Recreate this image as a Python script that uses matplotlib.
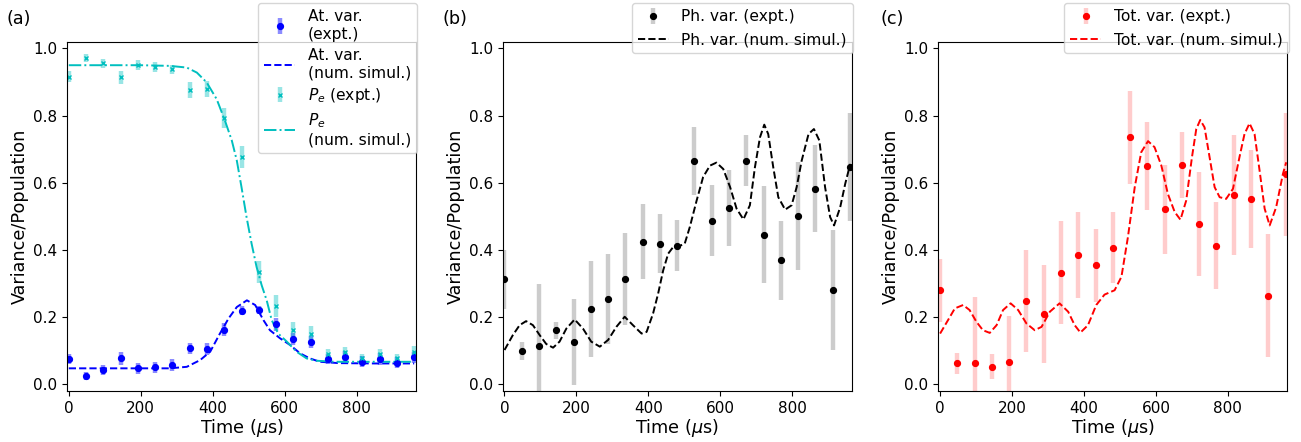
import numpy as np
import matplotlib
matplotlib.use("Agg")
import matplotlib.pyplot as plt

# ---------------- data ----------------
t_expt = [0, 48, 96, 144, 192, 240, 288, 336, 384, 432, 480, 528, 576, 624, 672, 720, 768, 816, 864, 912, 960]

at_var = [0.075, 0.026, 0.043, 0.077, 0.048, 0.050, 0.057, 0.107, 0.105, 0.163, 0.219,
          0.221, 0.178, 0.134, 0.125, 0.075, 0.082, 0.067, 0.075, 0.064, 0.080]
at_var_err = [0.015, 0.012, 0.014, 0.020, 0.016, 0.016, 0.017, 0.017, 0.017, 0.018, 0.013,
              0.012, 0.018, 0.018, 0.018, 0.016, 0.016, 0.017, 0.017, 0.017, 0.017]

pe = [0.916, 0.971, 0.956, 0.914, 0.950, 0.946, 0.938, 0.876, 0.879, 0.793, 0.676,
      0.335, 0.233, 0.161, 0.149, 0.089, 0.095, 0.079, 0.089, 0.077, 0.097]
pe_err = [0.017, 0.012, 0.013, 0.020, 0.015, 0.015, 0.014, 0.023, 0.024, 0.031, 0.032,
          0.032, 0.032, 0.025, 0.025, 0.017, 0.017, 0.012, 0.017, 0.013, 0.017]

t_at_sim = [0, 100, 200, 281, 328, 365, 393, 420, 444, 467, 495, 518, 541, 559, 587, 615,
            643, 670, 698, 750, 850, 960]
at_sim = [0.0475, 0.0475, 0.0475, 0.0475, 0.052, 0.072, 0.097, 0.151, 0.196, 0.230, 0.250,
          0.236, 0.191, 0.161, 0.137, 0.117, 0.092, 0.077, 0.067, 0.063, 0.062, 0.062]

t_pe_sim = [0, 100, 200, 281, 328, 356, 383, 411, 434, 453, 467, 480, 494, 508, 522, 536,
            550, 564, 582, 606, 633, 661, 689, 740, 850, 960]
pe_sim = [0.950, 0.950, 0.950, 0.948, 0.943, 0.928, 0.899, 0.849, 0.785, 0.726, 0.666, 0.587,
          0.498, 0.419, 0.349, 0.295, 0.250, 0.191, 0.151, 0.127, 0.097, 0.077, 0.070, 0.067,
          0.067, 0.067]

ph_var = [0.312, 0.100, 0.115, 0.161, 0.125, 0.224, 0.255, 0.313, 0.425, 0.419, 0.413,
          0.666, 0.487, 0.524, 0.666, 0.445, 0.369, 0.501, 0.582, 0.280, 0.647]
ph_var_err = [0.087, 0.027, 0.185, 0.025, 0.128, 0.142, 0.134, 0.136, 0.111, 0.089, 0.075,
              0.101, 0.105, 0.113, 0.077, 0.144, 0.117, 0.162, 0.129, 0.178, 0.161]

t_ph_sim = [0, 23, 42, 60, 79, 98, 116, 135, 153, 172, 195, 218, 241, 265, 288, 311, 334, 357,
            381, 395, 413, 427, 441, 455, 469, 487, 501, 515, 534, 552, 571, 589, 608, 627,
            645, 664, 682, 696, 710, 722, 733, 747, 761, 780, 798, 812, 826, 845, 860, 875,
            891, 905, 916, 933, 947, 961]
ph_sim = [0.102, 0.146, 0.176, 0.188, 0.176, 0.146, 0.120, 0.109, 0.127, 0.166, 0.193, 0.166,
          0.127, 0.112, 0.132, 0.171, 0.201, 0.176, 0.151, 0.156, 0.211, 0.270, 0.339, 0.389,
          0.409, 0.412, 0.419, 0.468, 0.547, 0.617, 0.651, 0.660, 0.641, 0.587, 0.523, 0.491,
          0.533, 0.646, 0.735, 0.773, 0.745, 0.646, 0.557, 0.520, 0.533, 0.587, 0.666, 0.745,
          0.760, 0.726, 0.587, 0.498, 0.473, 0.527, 0.597, 0.656]

tot_var = [0.280, 0.062, 0.064, 0.052, 0.065, 0.247, 0.209, 0.332, 0.384, 0.354, 0.407,
           0.735, 0.651, 0.521, 0.654, 0.477, 0.413, 0.563, 0.553, 0.263, 0.625]
tot_var_err = [0.094, 0.032, 0.196, 0.037, 0.138, 0.152, 0.145, 0.153, 0.128, 0.109, 0.105,
               0.139, 0.131, 0.133, 0.098, 0.154, 0.129, 0.178, 0.146, 0.183, 0.183]

t_tot_sim = [0, 22, 41, 64, 82, 101, 119, 138, 157, 175, 196, 217, 240, 263, 282, 305, 332,
             356, 374, 390, 411, 434, 457, 485, 504, 522, 541, 559, 578, 596, 615, 633, 652,
             668, 684, 700, 712, 723, 735, 749, 763, 777, 795, 814, 832, 846, 860, 874, 888,
             902, 916, 934, 953, 962]
tot_sim = [0.151, 0.191, 0.226, 0.236, 0.221, 0.186, 0.161, 0.153, 0.176, 0.221, 0.241, 0.221,
           0.181, 0.161, 0.171, 0.216, 0.241, 0.216, 0.176, 0.154, 0.176, 0.236, 0.267, 0.280,
           0.320, 0.438, 0.587, 0.691, 0.724, 0.706, 0.651, 0.567, 0.513, 0.490, 0.547, 0.676,
           0.760, 0.787, 0.765, 0.676, 0.587, 0.557, 0.552, 0.582, 0.676, 0.745, 0.777, 0.745,
           0.636, 0.523, 0.473, 0.527, 0.627, 0.661]

panel_labels = ["(a)", "(b)", "(c)"]
xticks = [0, 200, 400, 600, 800]
yticks = [0.0, 0.2, 0.4, 0.6, 0.8, 1.0]

# ---------------- figure ----------------
W, H = 1301, 442
fig = plt.figure(figsize=(W / 100, H / 100), dpi=100)

TICK_FS = 11.0
LABEL_FS = 12.7
LEG_FS = 11.2

lefts = [67, 502.7, 938.3]
ax_w = 349
ax_b = 391
ax_t = 41.7
axes = []
for l in lefts:
    ax = fig.add_axes([l / W, 1 - ax_b / H, ax_w / W, (ax_b - ax_t) / H])
    axes.append(ax)

def style(ax):
    ax.set_xlim(-5, 965)
    ax.set_ylim(-0.02, 1.02)
    ax.set_xticks(xticks)
    ax.set_yticks(yticks)
    ax.tick_params(labelsize=TICK_FS)
    ax.set_xlabel(r"Time ($\mu$s)", fontsize=LABEL_FS, labelpad=1)
    ax.set_ylabel("Variance/Population", fontsize=LABEL_FS, labelpad=3)

def legend(ax, handles, spacing=0.5):
    ax.legend(handles=handles, loc='upper right', bbox_to_anchor=(1.004, 1.11),
              borderaxespad=0, fontsize=LEG_FS, labelspacing=spacing)

ELW = 3.2
MS = 4.2

# (a)
ax = axes[0]
h1 = ax.errorbar(t_expt, at_var, yerr=at_var_err, fmt='o', color='b', ms=MS,
                 ecolor=(0, 0, 1, 0.45), elinewidth=ELW, capsize=0, label="At. var.\n(expt.)")
h2, = ax.plot(t_at_sim, at_sim, '--', color='b', lw=1.4, label="At. var.\n(num. simul.)")
h3 = ax.errorbar(t_expt, pe, yerr=pe_err, fmt='x', color='c', ms=3.5, mew=1.0,
                 ecolor=(0, 0.75, 0.75, 0.4), elinewidth=ELW, capsize=0, label=r"$P_e$ (expt.)")
h4, = ax.plot(t_pe_sim, pe_sim, '-.', color='c', lw=1.4, label="$P_e$\n(num. simul.)")
style(ax)
legend(ax, [h1, h2, h3, h4], spacing=0.38)

# (b)
ax = axes[1]
h1 = ax.errorbar(t_expt, ph_var, yerr=ph_var_err, fmt='o', color='k', ms=MS,
                 ecolor=(0, 0, 0, 0.2), elinewidth=ELW, capsize=0, label="Ph. var. (expt.)")
h2, = ax.plot(t_ph_sim, ph_sim, '--', color='k', lw=1.4, label="Ph. var. (num. simul.)")
style(ax)
legend(ax, [h1, h2])

# (c)
ax = axes[2]
h1 = ax.errorbar(t_expt, tot_var, yerr=tot_var_err, fmt='o', color='r', ms=MS,
                 ecolor=(1, 0, 0, 0.2), elinewidth=ELW, capsize=0, label="Tot. var. (expt.)")
h2, = ax.plot(t_tot_sim, tot_sim, '--', color='r', lw=1.4, label="Tot. var. (num. simul.)")
style(ax)
legend(ax, [h1, h2])

label_x = [7, 443, 881]
for lx, lab in zip(label_x, panel_labels):
    fig.text(lx / W, 1 - 19 / H, lab, fontsize=LABEL_FS, va='center', ha='left')

fig.savefig("out.png", dpi=100)
